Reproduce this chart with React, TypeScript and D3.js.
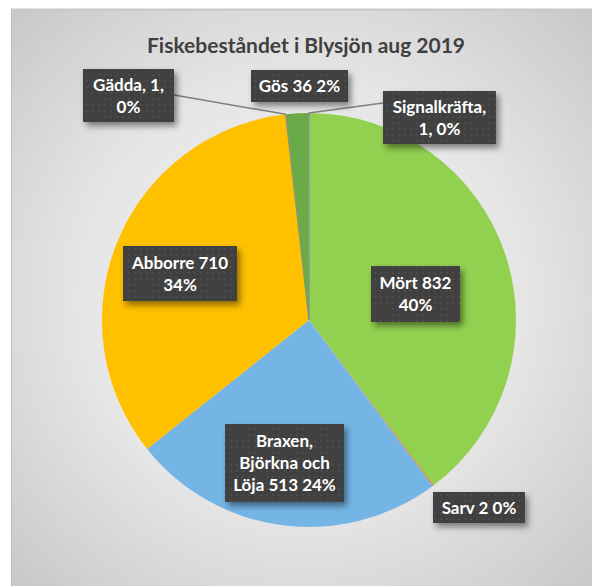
import React from "react";
import * as d3 from "d3";

const title = "Fiskebeståndet i Blysjön aug 2019";
const categories = ["Mört", "Sarv", "Braxen, Björkna och Löja", "Abborre", "Gädda", "Gös", "Signalkräfta"];
const values = [832, 2, 513, 710, 1, 36, 1];
const colors = ["#92d050", "#ed7d31", "#74b5e6", "#ffc000", "#8c8c8c", "#6aaa48", "#8c8c8c"];
const labelLines = [
  ["Mört 832", "40%"],
  ["Sarv 2 0%"],
  ["Braxen,", "Björkna och", "Löja 513 24%"],
  ["Abborre 710", "34%"],
  ["Gädda, 1,", "0%"],
  ["Gös 36 2%"],
  ["Signalkräfta,", "1, 0%"],
];

// label box layout: x, y, w, h, leader (side of box to connect or null)
const labelBoxes = [
  { x: 371, y: 266, w: 89, h: 56, leader: null },
  { x: 433, y: 492, w: 92, h: 31, leader: null },
  { x: 225, y: 424, w: 119, h: 78, leader: null },
  { x: 123, y: 246, w: 114, h: 55, leader: null },
  { x: 83, y: 69, w: 91, h: 53, leader: { x: 174, y: 95 } },
  { x: 251, y: 70, w: 97, h: 32, leader: null },
  { x: 383, y: 91, w: 113, h: 53, leader: { x: 383, y: 103 } },
];

const W = 592;
const H = 586;
const cx = 309;
const cy = 320;
const R = 207;

export default function App() {
  const pie = d3.pie<number>().sort(null).value((d) => d)(values);
  const arc = d3.arc<d3.PieArcDatum<number>>().innerRadius(0).outerRadius(R);
  const font = "Lato, 'Open Sans', sans-serif";
  return (
    <svg width={W} height={H} style={{ position: "absolute", left: 0, top: 0 }}>
      <defs>
        <radialGradient id="bg" cx="0.5" cy="0.5" r="0.75">
          <stop offset="0" stopColor="#f0f0f0" />
          <stop offset="0.5" stopColor="#e6e6e6" />
          <stop offset="1" stopColor="#c4c4c4" />
        </radialGradient>
        <pattern id="dots" width="6" height="6" patternUnits="userSpaceOnUse">
          <rect width="6" height="6" fill="#3f3f3f" />
          <rect x="2" y="2" width="2" height="2" fill="#4c4c4c" />
        </pattern>
        <filter id="sh" x="-20%" y="-20%" width="150%" height="160%">
          <feDropShadow dx="3" dy="4" stdDeviation="3" floodColor="#000" floodOpacity="0.45" />
        </filter>
      </defs>
      <rect x={0} y={0} width={W} height={H} fill="#ffffff" />
      <rect x={11} y={9} width={W - 11} height={H - 9} fill="url(#bg)" />
      <line x1={11} y1={9.5} x2={W} y2={9.5} stroke="#c8c8c8" strokeWidth={2} />
      <line x1={11.5} y1={9} x2={11.5} y2={H} stroke="#c0c0c0" strokeWidth={1} />
      <text x={306} y={53} textAnchor="middle" fontFamily={font} fontWeight={700} fontSize={21} fill="#404040">
        {title}
      </text>
      <g transform={`translate(${cx},${cy})`}>
        {pie.map((p, i) => (
          <path key={categories[i]} d={arc(p) || ""} fill={colors[i]} stroke={i === 4 || i === 6 ? "#8c8c8c" : "none"} strokeWidth={0.8} />
        ))}
      </g>
      {pie.map((p, i) => {
        const b = labelBoxes[i];
        if (!b.leader) return null;
        const a = (p.startAngle + p.endAngle) / 2;
        const ex = cx + R * Math.sin(a);
        const ey = cy - R * Math.cos(a);
        return <line key={"l" + i} x1={b.leader.x} y1={b.leader.y} x2={ex} y2={ey} stroke="#7f7f7f" strokeWidth={1.5} />;
      })}
      {labelLines.map((lines, i) => {
        const b = labelBoxes[i];
        const lh = 22;
        const startY = b.y + b.h / 2 - ((lines.length - 1) * lh) / 2 + 6;
        return (
          <g key={"b" + i}>
            <rect x={b.x} y={b.y} width={b.w} height={b.h} fill="url(#dots)" filter="url(#sh)" />
            {lines.map((t, j) => (
              <text key={j} x={b.x + b.w / 2} y={startY + j * lh} textAnchor="middle" fontFamily={font} fontWeight={700} fontSize={17} fill="#ffffff">
                {t}
              </text>
            ))}
          </g>
        );
      })}
    </svg>
  );
}
